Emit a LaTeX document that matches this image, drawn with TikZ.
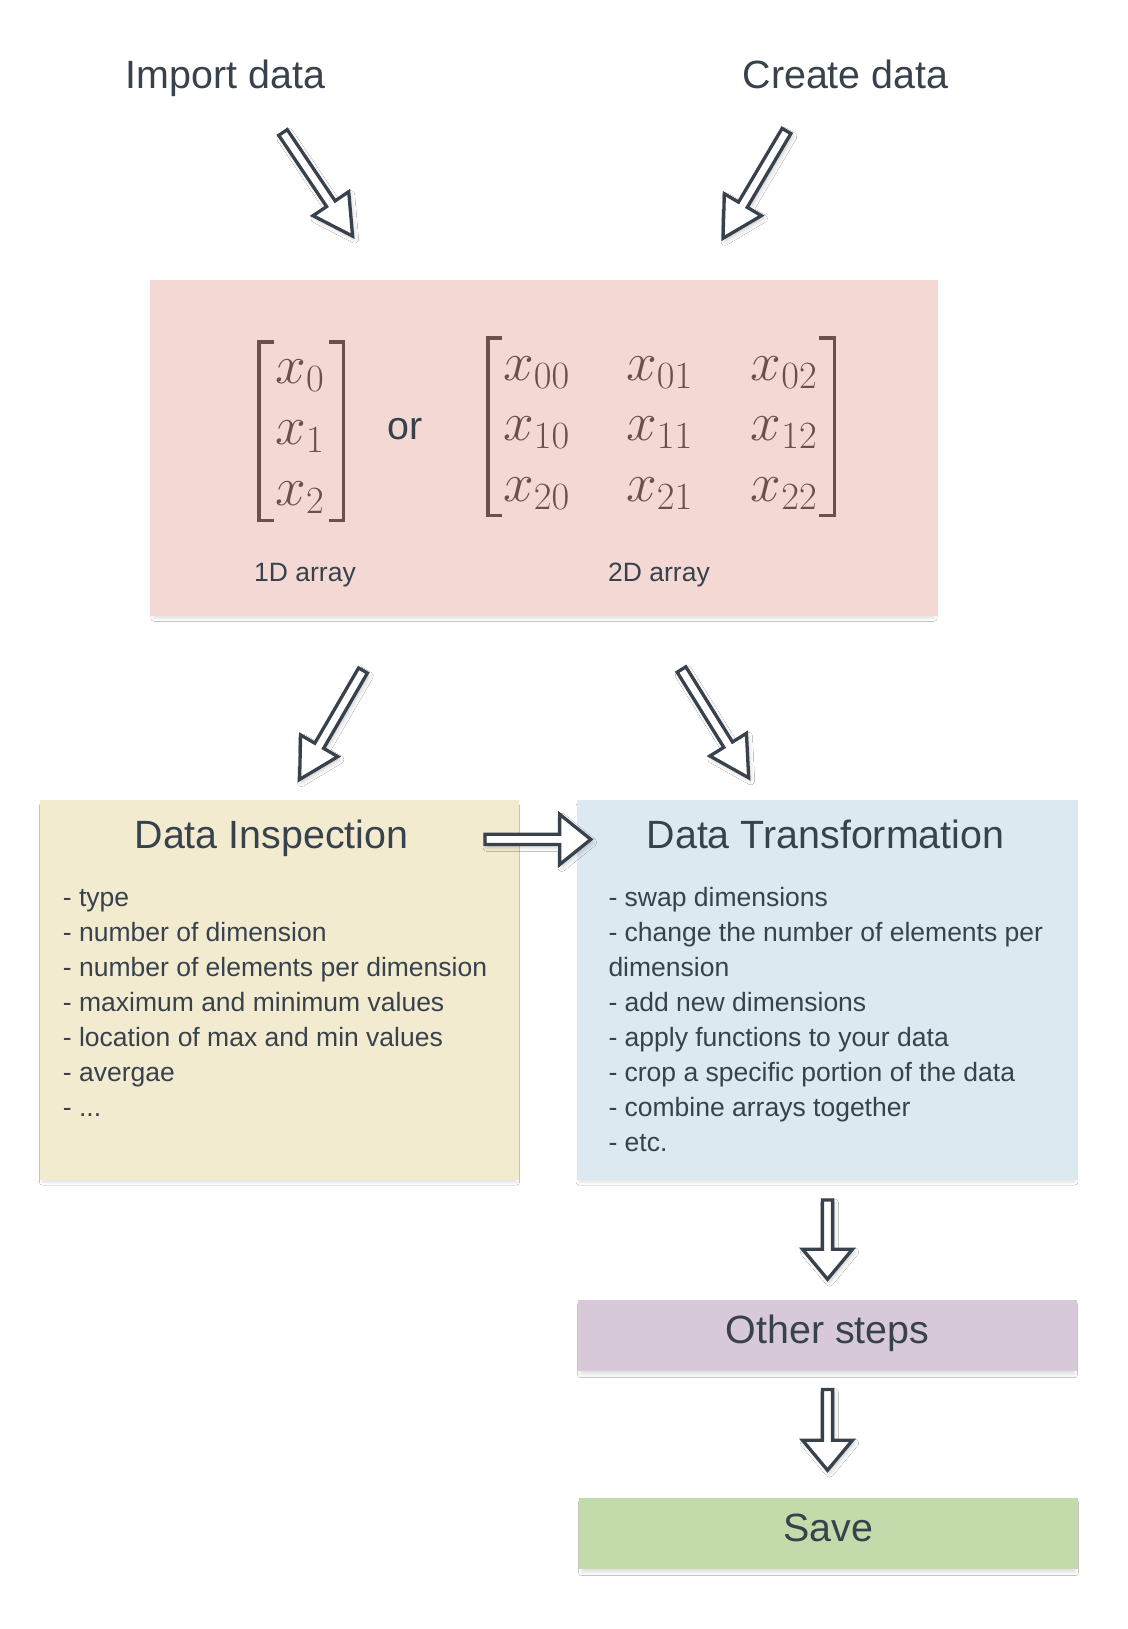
\RequirePackage{fix-cm}
\documentclass[tikz,border=0pt]{standalone}
\usepackage{fontspec}
\newfontfamily\lsans{Liberation Sans}
\usetikzlibrary{calc,shadows.blur}
\definecolor{txt}{HTML}{37424D}
\definecolor{arrc}{HTML}{38424C}
\definecolor{matc}{HTML}{6B514D}
\definecolor{pinkbg}{HTML}{F4D8D4}
\definecolor{yelbg}{HTML}{F3EBD0}
\definecolor{bluebg}{HTML}{DDE9F0}
\definecolor{purbg}{HTML}{D8C9D9}
\definecolor{grnbg}{HTML}{C3DAAA}
\tikzset{
  box/.style={draw=none, inner sep=0pt, outer sep=0pt,
    blur shadow={shadow xshift=0pt, shadow yshift=-4pt, shadow blur radius=3pt, shadow opacity=12, shadow scale=0.99}},
  bigtxt/.style={inner sep=0pt, text=txt, font=\lsans\fontsize{39.4}{47}\selectfont, anchor=base},
  smalltxt/.style={inner sep=0pt, text=txt, font=\lsans\fontsize{26.5}{35}\selectfont, anchor=base},
  listtxt/.style={inner sep=0pt, text=txt, font=\lsans\fontsize{26.5}{35}\selectfont, align=left, anchor=base west},
  ent/.style={inner sep=0pt, text=matc, font=\fontsize{55}{62}\selectfont, anchor=base},
  brk/.style={draw=matc, line width=3.5pt, line cap=butt, line join=miter},
  arrowline/.style={draw=arrc, fill=white, line width=3.3pt, line join=miter,
    blur shadow={shadow xshift=2pt, shadow yshift=-3pt, shadow blur radius=4pt, shadow opacity=20}}
}
% block arrow: #1 tail coordinate, #2 tip coordinate, #3 head length, #4 head half width
\newcommand\blockarr[4]{%
  \coordinate (#1#2h) at ($(#2)!#3!(#1)$);
  \draw[arrowline] ($(#1)!5.1pt!90:(#2)$) -- ($(#1#2h)!5.1pt!90:(#2)$)
     -- ($(#1#2h)!#4!90:(#2)$) -- (#2) -- ($(#1#2h)!#4!-90:(#2)$)
     -- ($(#1#2h)!5.1pt!-90:(#2)$) -- ($(#1)!5.1pt!-90:(#2)$) -- cycle;
}
\begin{document}
\begin{tikzpicture}[x=1pt,y=-1pt]
\fill[white] (0,0) rectangle (1127,1629);
\useasboundingbox (0,0) rectangle (1127,1629);

% top labels
\node[bigtxt] (imp) at (225.5,88.3) {Import data};
\node[bigtxt] (cre) at (845.5,88.3) {Create data};

% array box
\node[box, fill=pinkbg, minimum width=788pt, minimum height=336pt] (arrays) at (544,448) {};
\draw[brk] (274,342) -- (259,342) -- (259,520.7) -- (274,520.7);
\draw[brk] (328.7,342) -- (343.7,342) -- (343.7,520.7) -- (328.7,520.7);
\node[ent] (v0) at (300,383.5) {$x_0$};
\node[ent] (v1) at (300,444.5) {$x_1$};
\node[ent] (v2) at (300,505.5) {$x_2$};
\node[bigtxt] (or) at (405,439) {or};
\draw[brk] (502,338) -- (488,338) -- (488,515.5) -- (502,515.5);
\draw[brk] (819,338) -- (834.5,338) -- (834.5,515.5) -- (819,515.5);
\node[ent] (m00) at (536.5,380) {$x_{00}$};
\node[ent] (m01) at (659.5,380) {$x_{01}$};
\node[ent] (m02) at (784,380) {$x_{02}$};
\node[ent] (m10) at (536.5,440.5) {$x_{10}$};
\node[ent] (m11) at (659.5,440.5) {$x_{11}$};
\node[ent] (m12) at (784,440.5) {$x_{12}$};
\node[ent] (m20) at (536.5,501) {$x_{20}$};
\node[ent] (m21) at (659.5,501) {$x_{21}$};
\node[ent] (m22) at (784,501) {$x_{22}$};
\node[smalltxt] (l1d) at (305,581.5) {1D array};
\node[smalltxt] (l2d) at (659,581.5) {2D array};

% inspection box
\node[box, fill=yelbg, minimum width=479pt, minimum height=380pt] (insp) at (279.5,990) {};
\node[bigtxt] (insptitle) at (271.5,848) {Data Inspection};
\node[listtxt] (insplist) at (62.7,1116.7) {- type\\- number of dimension\\- number of elements per dimension\\- maximum and minimum values\\- location of max and min values\\- avergae\\- ...};

% transformation box
\node[box, fill=bluebg, minimum width=501pt, minimum height=380pt] (trans) at (827,990) {};
\node[bigtxt] (transtitle) at (825.5,848) {Data Transformation};
\node[listtxt] (translist) at (608.3,1151.7) {- swap dimensions\\- change the number of elements per\\dimension\\- add new dimensions\\- apply functions to your data\\- crop a specific portion of the data\\- combine arrays together\\- etc.};

% other steps and save
\node[box, fill=purbg, minimum width=499pt, minimum height=71pt, text height=28pt, text depth=13pt,
      text=txt, font=\lsans\fontsize{39.4}{47}\selectfont] (other) at (827.5,1335.5) {Other steps};
\node[box, fill=grnbg, minimum width=499pt, minimum height=71pt, text height=28pt, text depth=13pt,
      text=txt, font=\lsans\fontsize{39.4}{47}\selectfont] (save) at (828.5,1533.5) {Save};

% arrow end points
\coordinate (a1s) at (283,132.5);
\coordinate (a1e) at (352.6,236.1);
\coordinate (a2s) at (786.5,131);
\coordinate (a2e) at (723,238.3);
\coordinate (a3s) at (363,670.5);
\coordinate (a3e) at (299.6,779.5);
\coordinate (a4s) at (681.5,669.5);
\coordinate (a4e) at (748.7,777.8);
\coordinate (a5s) at (485,839.4);
\coordinate (a5e) at (590.8,839.4);
\coordinate (a6s) at (827.5,1199.9);
\coordinate (a6e) at (827.5,1279.2);
\coordinate (a7s) at (827.5,1389.5);
\coordinate (a7e) at (827.5,1470.2);

\blockarr{a1s}{a1e}{39pt}{21.5pt}
\blockarr{a2s}{a2e}{39pt}{21.5pt}
\blockarr{a3s}{a3e}{39pt}{21.5pt}
\blockarr{a4s}{a4e}{39pt}{21.5pt}
\blockarr{a5s}{a5e}{31pt}{25pt}
\blockarr{a6s}{a6e}{30pt}{25pt}
\blockarr{a7s}{a7e}{30pt}{25pt}
\end{tikzpicture}
\end{document}
